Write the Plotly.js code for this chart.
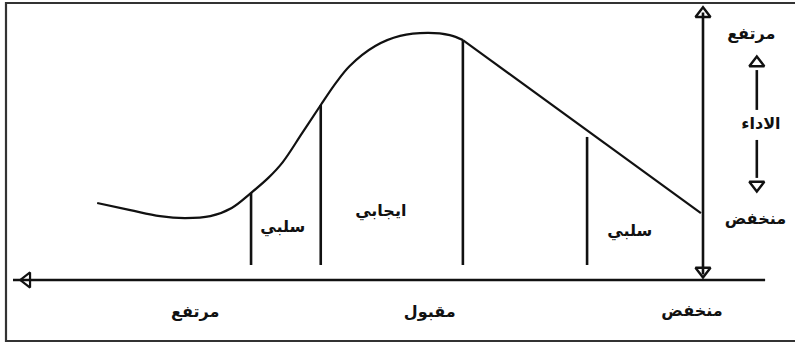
<!DOCTYPE html>
<html>
<head>
<meta charset="utf-8">
<script src="https://cdn.plot.ly/plotly-3.0.1.min.js"></script>
<style>
  html, body { margin: 0; padding: 0; background: #fff; }
  #chart { width: 795px; height: 349px; }
</style>
</head>
<body>
<div id="chart"></div>
<script>
// Stress (x, grows to the left) vs performance (y), both 0..100
const curveStress = [87.8, 83.0, 78.7, 75.1, 71.4, 68.3, 65.5, 63.0, 60.9, 58.1, 55.4, 53.2, 51.2, 47.5, 43.9, 39.9, 36.7, 34.8];
const curvePerf   = [28.2, 25.6, 23.4, 22.7, 23.4, 26.4, 31.9, 37.4, 43.2, 53.8, 64.1, 72.2, 78.4, 85.7, 89.4, 90.5, 89.7, 87.9];

// straight decline from the peak to low stress
const declineStress = [34.8, 0.3];
const declinePerf   = [87.9, 24.5];

// zone dividers
const dividerStress = [65.5, 55.4, 34.8, 16.8];
const dividerTop    = [31.9, 64.1, 87.9, 52.4];
const dividerBottom = [5.5, 5.5, 5.5, 5.5];

// zone labels
const zoneLabels = ['سلبي', 'ايجابي', 'سلبي'];
const zoneStress = [60.9, 46.7, 10.6];
const zonePerf   = [19, 25, 17.6];

// stress axis labels
const stressLabels = ['مرتفع', 'مقبول', 'منخفض'];
const stressLabelX = [73.6, 39.6, 1.6];
const stressLabelY = [-12.1, -12.1, -11.7];

// performance axis labels
const perfLabels = ['مرتفع', 'الاداء', 'منخفض'];
const perfLabelX = [-7.0, -8.4, -7.6];
const perfLabelY = [89.7, 56.8, 22];

const ink = '#111';
const arabicFont = { family: 'DejaVu Sans', size: 16, color: ink, weight: 'bold' };

// build divider segments separated by gaps
const divX = [], divY = [];
dividerStress.forEach((s, i) => {
  divX.push(s, s, null);
  divY.push(dividerBottom[i], dividerTop[i], null);
});

const traces = [
  {
    x: curveStress, y: curvePerf, type: 'scatter', mode: 'lines',
    line: { color: ink, width: 2.2, shape: 'spline', smoothing: 1 },
    hoverinfo: 'skip'
  },
  {
    x: declineStress, y: declinePerf, type: 'scatter', mode: 'lines',
    line: { color: ink, width: 2.2 }, hoverinfo: 'skip'
  },
  {
    x: divX, y: divY, type: 'scatter', mode: 'lines',
    line: { color: ink, width: 2.6 }, connectgaps: false, hoverinfo: 'skip'
  },
  // stress axis (points left)
  {
    x: [100, -9], y: [0, 0], type: 'scatter', mode: 'lines',
    line: { color: ink, width: 2.4 }, hoverinfo: 'skip'
  },
  {
    x: [98], y: [0], type: 'scatter', mode: 'markers',
    marker: { symbol: 'triangle-left-open', size: 13, color: ink, line: { width: 2.2, color: ink } },
    hoverinfo: 'skip'
  },
  // performance axis (both ends)
  {
    x: [0, 0], y: [2, 98], type: 'scatter', mode: 'lines',
    line: { color: ink, width: 2.6 }, hoverinfo: 'skip'
  },
  {
    x: [0, 0], y: [97.5, 3.3], type: 'scatter', mode: 'markers',
    marker: { symbol: ['triangle-up-open', 'triangle-down-open'], size: 13, color: ink, line: { width: 2.4, color: ink } },
    hoverinfo: 'skip'
  },
  // small performance arrow
  {
    x: [-7.8, -7.8, null, -7.8, -7.8], y: [76.9, 62.3, null, 51.3, 37.4],
    type: 'scatter', mode: 'lines', line: { color: ink, width: 2.6 }, hoverinfo: 'skip'
  },
  {
    x: [-7.8, -7.8], y: [79.5, 34.8], type: 'scatter', mode: 'markers',
    marker: { symbol: ['triangle-up-open', 'triangle-down-open'], size: 13, color: ink, line: { width: 2.4, color: ink } },
    hoverinfo: 'skip'
  },
  {
    x: zoneStress, y: zonePerf, text: zoneLabels, type: 'scatter', mode: 'text',
    textfont: arabicFont, hoverinfo: 'skip'
  },
  {
    x: stressLabelX, y: stressLabelY, text: stressLabels, type: 'scatter', mode: 'text',
    textfont: arabicFont, hoverinfo: 'skip'
  },
  {
    x: perfLabelX, y: perfLabelY, text: perfLabels, type: 'scatter', mode: 'text',
    textfont: arabicFont, hoverinfo: 'skip'
  }
];

// 6.9 px per stress unit, 2.73 px per performance unit
const xRange = [703 / 6.9, (703 - 795) / 6.9];
const yRange = [(280 - 349) / 2.73, 280 / 2.73];

const layout = {
  width: 795,
  height: 349,
  margin: { t: 0, b: 0, l: 0, r: 0 },
  showlegend: false,
  paper_bgcolor: '#fff',
  plot_bgcolor: '#fff',
  xaxis: { range: xRange, visible: false, fixedrange: true },
  yaxis: { range: yRange, visible: false, fixedrange: true },
  shapes: [{
    type: 'rect', xref: 'paper', yref: 'paper',
    x0: 6 / 795, x1: 1.2, y0: 8 / 349, y1: 346 / 349,
    line: { color: '#333', width: 2.2 }
  }]
};

Plotly.newPlot('chart', traces, layout, { displayModeBar: false, staticPlot: true });
</script>
</body>
</html>
